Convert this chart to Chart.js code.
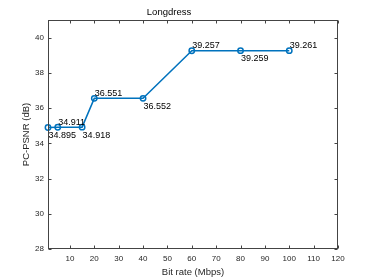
<!DOCTYPE html>
<html><head><meta charset="utf-8">
<script src="https://cdn.jsdelivr.net/npm/chart.js@4/dist/chart.umd.min.js"></script>
<style>html,body{margin:0;padding:0;background:#fff}#c{display:block}</style>
</head><body>
<canvas id="c" width="374" height="280"></canvas>
<script>
const chartTitle = 'Longdress';
const xTitle = 'Bit rate (Mbps)';
const yTitle = 'PC-PSNR (dB)';
const bitRates = [1, 5, 15, 20, 40, 60, 80, 100];
const psnr = [34.895, 34.911, 34.918, 36.551, 36.552, 39.257, 39.259, 39.261];
const labelPos = ['below', 'above', 'below', 'above', 'below', 'above', 'below', 'above'];
const xTicks = [10, 20, 30, 40, 50, 60, 70, 80, 90, 100, 110, 120];
const yTicks = [28, 30, 32, 34, 36, 38, 40];

const FONT = '"Liberation Sans", Arial, Helvetica, sans-serif';
const AX = '#262626';
const BLUE = '#0072BD';

const boxPlugin = {
  id: 'box',
  afterDraw(chart) {
    const {ctx, chartArea: a, scales: {x, y}} = chart;
    ctx.save();
    ctx.strokeStyle = '#444';
    ctx.lineWidth = 1;
    const L = Math.round(a.left) + 0.5, R = Math.round(a.right) - 0.5;
    const T = Math.round(a.top) + 0.5, B = Math.round(a.bottom) - 0.5;
    ctx.strokeRect(L, T, R - L, B - T);
    const tl = 3;
    ctx.beginPath();
    xTicks.forEach(v => {
      const px = Math.round(x.getPixelForValue(v)) + 0.5;
      ctx.moveTo(px, B); ctx.lineTo(px, B - tl);
      ctx.moveTo(px, T); ctx.lineTo(px, T + tl);
    });
    yTicks.forEach(v => {
      const py = Math.round(y.getPixelForValue(v)) + 0.5;
      ctx.moveTo(L, py); ctx.lineTo(L + tl, py);
      ctx.moveTo(R, py); ctx.lineTo(R - tl, py);
    });
    ctx.stroke();
    ctx.restore();
  }
};

const labelPlugin = {
  id: 'ptlabels',
  afterDatasetsDraw(chart) {
    const {ctx} = chart;
    const meta = chart.getDatasetMeta(0);
    ctx.save();
    ctx.font = '9px ' + FONT;
    ctx.fillStyle = '#000';
    ctx.textAlign = 'left';
    ctx.textBaseline = 'alphabetic';
    meta.data.forEach((pt, i) => {
      const dy = labelPos[i] === 'above' ? -2.5 : 10.5;
      ctx.fillText(psnr[i].toFixed(3), pt.x + 0.5, pt.y + dy);
    });
    ctx.restore();
  }
};

new Chart(document.getElementById('c'), {
  type: 'scatter',
  data: {
    datasets: [{
      data: bitRates.map((b, i) => ({x: b, y: psnr[i]})),
      showLine: true,
      borderColor: BLUE,
      backgroundColor: 'rgba(0,0,0,0)',
      borderWidth: 1.5,
      pointRadius: 2.7,
      pointBorderWidth: 1.5,
      pointBorderColor: BLUE,
      pointBackgroundColor: 'rgba(0,0,0,0)',
      pointHoverRadius: 2.7
    }]
  },
  options: {
    responsive: false,
    animation: false,
    devicePixelRatio: 1,
    clip: false,
    layout: {padding: {top: 0, right: 36, bottom: 0, left: 0}},
    plugins: {
      legend: {display: false},
      tooltip: {enabled: false},
      title: {
        display: true,
        text: chartTitle,
        color: '#000',
        font: {family: FONT, size: 9.5, weight: 'normal', lineHeight: 1.2},
        padding: {top: 7, bottom: 1.6}
      }
    },
    scales: {
      x: {
        type: 'linear',
        min: 1, max: 120,
        afterBuildTicks: s => { s.ticks = xTicks.map(v => ({value: v})); },
        afterFit: s => { s.height = 31; },
        grid: {display: false, drawTicks: false, tickLength: 0},
        border: {display: false},
        ticks: {color: AX, font: {family: FONT, size: 8}, padding: 5, maxRotation: 0, autoSkip: false},
        title: {display: true, text: xTitle, color: AX, font: {family: FONT, size: 9.5}, padding: {top: 0, bottom: 1.6}}
      },
      y: {
        type: 'linear',
        min: 28, max: 41,
        afterBuildTicks: s => { s.ticks = yTicks.map(v => ({value: v})); },
        afterFit: s => { s.width = 48; },
        grid: {display: false, drawTicks: false, tickLength: 0},
        border: {display: false},
        ticks: {color: AX, font: {family: FONT, size: 8}, padding: 4, autoSkip: false},
        title: {display: true, text: yTitle, color: AX, font: {family: FONT, size: 9.5}, padding: {top: 20.5, bottom: 0}}
      }
    }
  },
  plugins: [boxPlugin, labelPlugin]
});
</script>
</body></html>
